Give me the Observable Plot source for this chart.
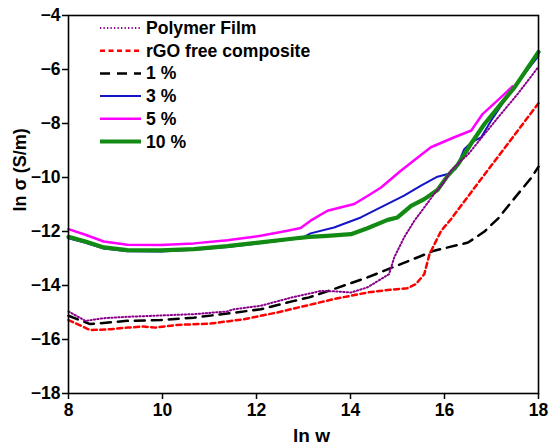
<!DOCTYPE html>
<html>
<head>
<meta charset="utf-8">
<script src="https://cdn.jsdelivr.net/npm/d3@7"></script>
<script src="https://cdn.jsdelivr.net/npm/@observablehq/plot@0.6"></script>
<style>
  html, body { margin: 0; padding: 0; background: #fff; }
  #chart { width: 550px; height: 447px; }
</style>
</head>
<body>
<div id="chart"></div>
<script>
// ---- data (ln w, ln sigma) ----
const polymerFilm = [
  [8,-14.96],[8.36,-15.31],[8.75,-15.21],[9.25,-15.16],[9.96,-15.11],[10.67,-15.06],
  [11.38,-14.96],[11.52,-14.88],[12.09,-14.75],[12.8,-14.42],[13.12,-14.3],[13.37,-14.2],
  [13.7,-14.22],[14.01,-14.26],[14.36,-14.07],[14.65,-13.76],[14.82,-13.58],[14.93,-12.96],
  [15.14,-12.22],[15.36,-11.6],[15.57,-11.11],[15.78,-10.61],[15.96,-10.24],[16.14,-9.75],
  [16.35,-9.38],[16.5,-9.15],[16.8,-8.5],[17.2,-7.65],[17.56,-6.9],[18,-5.9]
];
const rgoFree = [
  [8,-15.28],[8.46,-15.65],[8.89,-15.62],[9.25,-15.56],[9.6,-15.52],[9.85,-15.56],
  [10.31,-15.46],[11.02,-15.41],[11.73,-15.25],[12.44,-15.0],[13.12,-14.72],[13.65,-14.5],
  [14.36,-14.26],[14.79,-14.17],[15.21,-14.1],[15.39,-13.95],[15.57,-13.58],[15.68,-12.84],
  [15.93,-11.97],[16.14,-11.54],[16.5,-10.7],[17,-9.55],[17.5,-8.4],[18,-7.25]
];
const pct1 = [
  [8,-15.12],[8.46,-15.43],[9.25,-15.31],[9.96,-15.28],[10.67,-15.19],[11.38,-15.04],
  [12.09,-14.88],[12.8,-14.57],[13.12,-14.44],[13.65,-14.13],[14.36,-13.7],[15.07,-13.21],
  [15.78,-12.71],[16.5,-12.41],[16.85,-12.0],[17.15,-11.5],[17.45,-10.85],[17.85,-10.0],[18,-9.6]
];
const pct3 = [
  [8,-12.25],[8.36,-12.42],[8.75,-12.63],[9.25,-12.73],[9.96,-12.74],[10.67,-12.68],
  [11.38,-12.57],[12.09,-12.43],[12.8,-12.28],[12.94,-12.26],[13.15,-12.07],[13.65,-11.85],
  [14.22,-11.48],[14.43,-11.29],[14.79,-10.98],[15.14,-10.67],[15.5,-10.3],[15.85,-9.97],
  [16.07,-9.87],[16.24,-9.68],[16.35,-9.25],[16.42,-8.95],[16.57,-8.7],[16.78,-8.51],
  [16.99,-7.9],[17.28,-7.15],[17.49,-6.66],[17.75,-6.05],[18,-5.5]
];
const pct5 = [
  [8,-11.91],[8.36,-12.12],[8.75,-12.37],[9.25,-12.49],[9.96,-12.5],[10.67,-12.44],
  [11.38,-12.32],[12.09,-12.16],[12.66,-11.97],[12.94,-11.87],[13.15,-11.6],[13.51,-11.23],
  [14.08,-10.98],[14.43,-10.61],[14.65,-10.37],[15.07,-9.75],[15.71,-8.88],[16.21,-8.51],
  [16.57,-8.26],[16.81,-7.65],[17.2,-7.03],[17.45,-6.62]
];
const pct10 = [
  [8,-12.2],[8.36,-12.37],[8.75,-12.59],[9.25,-12.69],[9.96,-12.7],[10.67,-12.65],
  [11.38,-12.54],[12.09,-12.4],[12.8,-12.26],[13.12,-12.2],[13.51,-12.16],[14.01,-12.1],
  [14.36,-11.88],[14.79,-11.57],[15.0,-11.48],[15.29,-11.05],[15.57,-10.8],[15.85,-10.46],
  [16.07,-9.93],[16.28,-9.53],[16.56,-8.76],[16.85,-8.02],[17.49,-6.66],[18,-5.35]
];
const xTicks = [8, 10, 12, 14, 16, 18];
const yTicks = [-4, -6, -8, -10, -12, -14, -16, -18];
const seriesNames = ["Polymer Film", "rGO free composite", "1 %", "3 %", "5 %", "10 %"];

const styles = [
  {stroke: "#8b008b", strokeWidth: 2, strokeDasharray: "1.3,2.2"},
  {stroke: "#ff0000", strokeWidth: 2.5, strokeDasharray: "5,3.5"},
  {stroke: "#000000", strokeWidth: 2.5, strokeDasharray: "10,7"},
  {stroke: "#1414c8", strokeWidth: 2},
  {stroke: "#ff00ff", strokeWidth: 2.5},
  {stroke: "#138a13", strokeWidth: 4.2}
];
const allSeries = [polymerFilm, rgoFree, pct1, pct3, pct5, pct10];

const X = d => d[0], Y = d => d[1];
const FONT = "'Liberation Sans', Arial, sans-serif";

const drawOrder = [3, 4, 5, 2, 1, 0];
const lineMarks = drawOrder.map(i => Plot.line(allSeries[i], {x: X, y: Y, strokeLinejoin: "round", ...styles[i]}));

const chart = Plot.plot({
  width: 550,
  height: 447,
  marginLeft: 68,
  marginRight: 12,
  marginTop: 15,
  marginBottom: 54,
  style: {fontFamily: FONT, background: "white", color: "black", overflow: "visible"},
  x: {domain: [8, 18]},
  y: {domain: [-18, -4]},
  marks: [
    ...lineMarks,
    Plot.frame({stroke: "black", strokeWidth: 1.6}),
    Plot.axisX({ticks: xTicks, tickSize: 6, tickPadding: 4, label: null, fontSize: 17.5, fontWeight: "bold", strokeWidth: 1.5}),
    Plot.axisY({ticks: yTicks, tickSize: 6, tickPadding: 2, label: null, fontSize: 17.5, fontWeight: "bold", strokeWidth: 1.5}),
    Plot.text(["ln w"], {frameAnchor: "bottom", text: d => d, dy: 48, dx: 8, lineAnchor: "bottom", fontSize: 19, fontWeight: "bold"}),
    Plot.text(["ln σ (S/m)"], {frameAnchor: "left", text: d => d, rotate: -90, dx: -43, dy: 7, lineAnchor: "bottom", fontSize: 18, fontWeight: "bold"})
  ]
});
document.getElementById("chart").appendChild(chart);

// legend inside the plot area (top-left)
const svg = d3.select(chart);
const lg = svg.append("g").attr("class", "legend").attr("text-anchor", "start");
seriesNames.forEach((name, i) => {
  const cy = 28 + i * 22.7;
  const s = styles[i];
  lg.append("line")
    .attr("x1", 100).attr("x2", 141).attr("y1", cy).attr("y2", cy)
    .attr("stroke", s.stroke).attr("stroke-width", s.strokeWidth)
    .attr("stroke-dasharray", s.strokeDasharray || null);
  lg.append("text")
    .attr("x", 146).attr("y", cy + 6)
    .attr("text-anchor", "start")
    .attr("font-family", FONT).attr("font-size", 17.6).attr("font-weight", "bold")
    .attr("fill", "black")
    .text(name);
});
</script>
</body>
</html>
